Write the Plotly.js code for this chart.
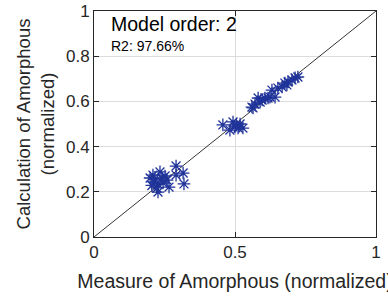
<!DOCTYPE html>
<html><head><meta charset="utf-8">
<script src="https://cdn.plot.ly/plotly-3.0.1.min.js"></script>
<style>html,body{margin:0;padding:0;background:#fff;}#c{width:388px;height:296px;}</style>
</head><body><div id="c"></div>
<script>
var measured = [0.291,0.316,0.319,0.291,0.234,0.209,0.216,0.199,0.241,0.259,0.266,0.227,0.223,0.227,0.245,0.213,0.252,0.205,
  0.457,0.493,0.500,0.482,0.528,0.511,0.518,0.505,
  0.560,0.571,0.582,0.589,0.596,0.606,0.617,0.624,0.631,0.642,0.652,0.667,0.677,0.684,0.688,0.702,0.713,0.723,0.564];
var calculated = [0.314,0.283,0.235,0.274,0.288,0.274,0.257,0.261,0.261,0.252,0.221,0.235,0.217,0.199,0.239,0.243,0.270,0.228,
  0.496,0.509,0.487,0.473,0.482,0.482,0.500,0.495,
  0.575,0.588,0.615,0.597,0.606,0.615,0.615,0.619,0.650,0.619,0.659,0.664,0.681,0.673,0.686,0.695,0.704,0.708,0.571];
var refLine = [0, 1];
var xTicks = [0, 0.5, 1];
var yTicks = [0, 0.2, 0.4, 0.6, 0.8, 1];
var titleMain = 'Model order: 2';
var titleSub = 'R2: 97.66%';

var font = 'Liberation Sans, Arial, sans-serif';
var data = [
  {x: refLine, y: refLine, mode: 'lines', line: {color: '#000', width: 0.8}, hoverinfo: 'skip', showlegend: false},
  {x: measured, y: calculated, mode: 'markers', showlegend: false,
   marker: {symbol: 'asterisk-open', size: 10.5, color: '#1f3399', line: {color: '#1f3399', width: 1.3}}}
];
var axisCommon = {
  range: [0, 1], ticks: 'inside', ticklen: 5, tickcolor: '#262626', showline: true, linecolor: '#262626', linewidth: 1,
  mirror: 'ticks', showgrid: true, gridcolor: '#dcdcdc', gridwidth: 1, zeroline: false,
  tickfont: {family: font, size: 17, color: '#262626'}
};
var layout = {
  width: 388, height: 296, paper_bgcolor: '#fff', plot_bgcolor: '#fff',
  margin: {l: 94, r: 12, t: 11, b: 59},
  xaxis: Object.assign({}, axisCommon, {tickvals: xTicks, ticktext: ['0','0.5','1'],
    title: {text: 'Measure of Amorphous (normalized)', font: {family: font, size: 19.5, color: '#262626'}, standoff: 12}}),
  yaxis: Object.assign({}, axisCommon, {tickvals: yTicks, ticktext: ['0','0.2','0.4','0.6','0.8','1'],
    title: {text: 'Calculation of Amorphous<br>(normalized)', font: {family: font, size: 18.5, color: '#262626'}, standoff: 6}}),
  annotations: [
    {xref: 'paper', yref: 'paper', x: 0.052, y: 1.0, xanchor: 'left', yanchor: 'top', showarrow: false,
     text: titleMain, font: {family: font, size: 19.5, color: '#000'}},
    {xref: 'paper', yref: 'paper', x: 0.052, y: 0.89, xanchor: 'left', yanchor: 'top', showarrow: false,
     text: titleSub, font: {family: font, size: 14, color: '#000'}}
  ]
};
Plotly.newPlot('c', data, layout, {displayModeBar: false, staticPlot: true});
</script></body></html>
